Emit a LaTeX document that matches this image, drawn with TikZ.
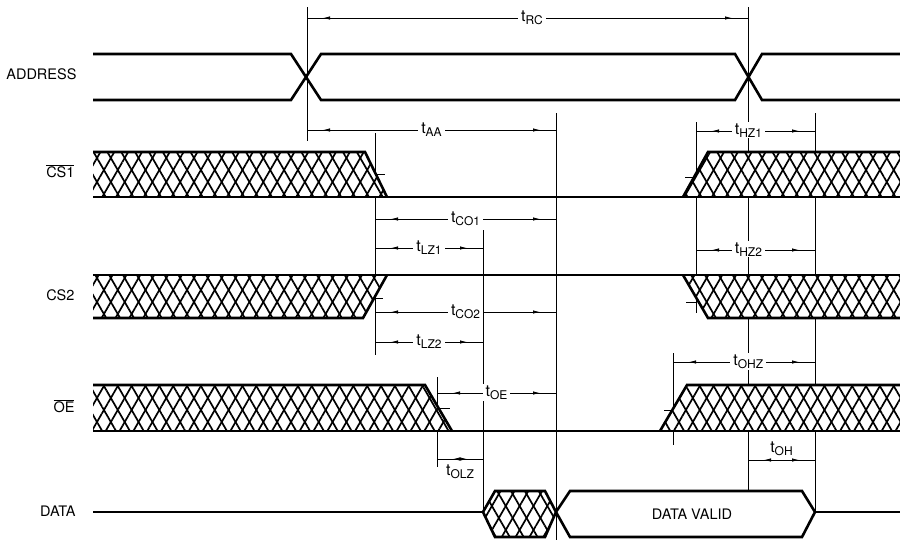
\documentclass[tikz,border=0pt]{standalone}
\usepackage{fontspec}
\setmainfont{TeX Gyre Heros}
\usetikzlibrary{arrows.meta, decorations.markings, patterns.meta}

\newcommand{\tsub}[1]{t\raisebox{-0.4ex}{\fontsize{12}{12}\selectfont #1}}

\tikzset{
  sig/.style={line width=2.6pt},
  guide/.style={line width=0.8pt},
  hatch/.style={fill=white,
    postaction={pattern={Lines[angle=60,distance=12pt,line width=1.7pt]}},
    postaction={pattern={Lines[angle=-60,distance=12pt,line width=1.7pt]}}},
  dim/.style={line width=0.8pt, postaction={decorate}, decoration={markings,
    mark=at position 16pt with {\arrowreversed{Latex[length=7pt,width=3.5pt]}},
    mark=at position -16pt with {\arrow{Latex[length=7pt,width=3.5pt]}}}},
  tlbl/.style={fill=white, inner xsep=3pt, inner ysep=1pt, anchor=base,
    yshift=-3pt, font=\fontsize{16}{16}\selectfont},
  tnote/.style={inner sep=1pt, font=\fontsize{16}{16}\selectfont},
  signame/.style={anchor=mid east, font=\fontsize{14.5}{16}\selectfont}
}

\begin{document}
\begin{tikzpicture}[x=1pt, y=-1pt]
  \useasboundingbox (0,0) rectangle (900,542);
  % signal names
  \node[signame] (lAddr) at (80,77) {ADDRESS};
  \node[signame] (lCSa) at (78,175) {$\overline{\hbox{CS1}}$};
  \node[signame] (lCSb) at (78,298) {CS2};
  \node[signame] (lOE) at (78,410) {$\overline{\hbox{OE}}$};
  \node[signame] (lData) at (79,514) {DATA};
  % reference lines
  \foreach \g/\x/\ya/\yb in {gA/307/7/141, gB/748/7/490, gC/375/133/355,
      gD/556/113/540, gE/483/230/512, gF/437/377/467, gG/696/122/313,
      gH/815/113/512, gI/673/353/445}{
    \coordinate (\g) at (\x,\ya);
    \coordinate (\g-end) at (\x,\yb);
    \draw[guide] (\g) -- (\g-end);
  }
  % timing intervals
  \foreach \a/\b/\y/\s/\p in {gA/gB/18/RC/0.51, gA/gD/130/AA/0.5,
      gG/gH/131/HZ1/0.44, gC/gD/219/CO1/0.5, gC/gE/248/LZ1/0.5,
      gG/gH/250/HZ2/0.44, gC/gD/312/CO2/0.5, gC/gE/342/LZ2/0.5,
      gI/gH/362/OHZ/0.53, gF/gD/393/OE/0.5}{
    \draw[dim] (\a |- 0,\y) -- node[tlbl, pos=\p] (t\s) {\tsub{\s}} (\b |- 0,\y);
  }
  \draw[dim] (gF |- 0,459) -- node[tnote, below=4pt] (tOLZ) {\tsub{OLZ}} (gE |- 0,459);
  \draw[dim] (gB |- 0,460) -- node[tnote, above=3pt] (tOH) {\tsub{OH}} (gH |- 0,460);
  % transition marks
  \draw[guide] (gC |- 0,174) -- ++(10,0);
  \draw[guide] (gG |- 0,177) -- ++(-11,0);
  \draw[guide] (gC |- 0,298) -- ++(8,0);
  \draw[guide] (gG |- 0,302) -- ++(-10,0);
  \draw[guide] (gF |- 0,408) -- ++(13,0);
  \draw[guide] (gI |- 0,410) -- ++(-9,0);
  % address
  \draw[sig] (93,54) -- (291,54) -- (321,100) -- (735,100) -- (762,54) -- (900,54);
  \draw[sig] (93,100) -- (291,100) -- (321,54) -- (735,54) -- (762,100) -- (900,100);
  % cs1
  \path[hatch] (93,152) -- (365,152) -- (387,197) -- (93,197) -- cycle;
  \path[hatch] (683,197) -- (708,152) -- (900,152) -- (900,197) -- cycle;
  \draw[sig] (93,152) -- (365,152) -- (387,197);
  \draw[sig] (93,197) -- (900,197);
  \draw[sig] (683,197) -- (708,152) -- (900,152);
  % cs2
  \path[hatch] (93,275) -- (387,275) -- (363,318) -- (93,318) -- cycle;
  \path[hatch] (683,275) -- (708,318) -- (900,318) -- (900,275) -- cycle;
  \draw[sig] (93,275) -- (900,275);
  \draw[sig] (93,318) -- (363,318) -- (387,275);
  \draw[sig] (683,275) -- (708,318) -- (900,318);
  % oe
  \path[hatch] (93,385) -- (425,385) -- (452,431) -- (93,431) -- cycle;
  \path[hatch] (660,431) -- (687,385) -- (900,385) -- (900,431) -- cycle;
  \draw[sig] (93,385) -- (425,385) -- (452,431);
  \draw[sig] (93,431) -- (900,431);
  \draw[sig] (660,431) -- (687,385) -- (900,385);
  % data
  \draw[sig] (93,512) -- (gE-end);
  \path[hatch] (gE-end) -- (495,491) -- (545,491) -- (556,512) -- (545,537) -- (495,537) -- cycle;
  \draw[sig] (gE-end) -- (495,491) -- (545,491) -- (556,512) -- (545,537) -- (495,537) -- cycle;
  \draw[sig, fill=white] (556,512) -- (570,491) -- (802,491) -- (gH-end) -- (802,537) -- (570,537) -- cycle;
  \node[tnote, font=\fontsize{14.5}{16}\selectfont] (dv) at (692,514) {DATA VALID};
  \draw[sig] (gH-end) -- (900,512);
\end{tikzpicture}
\end{document}
